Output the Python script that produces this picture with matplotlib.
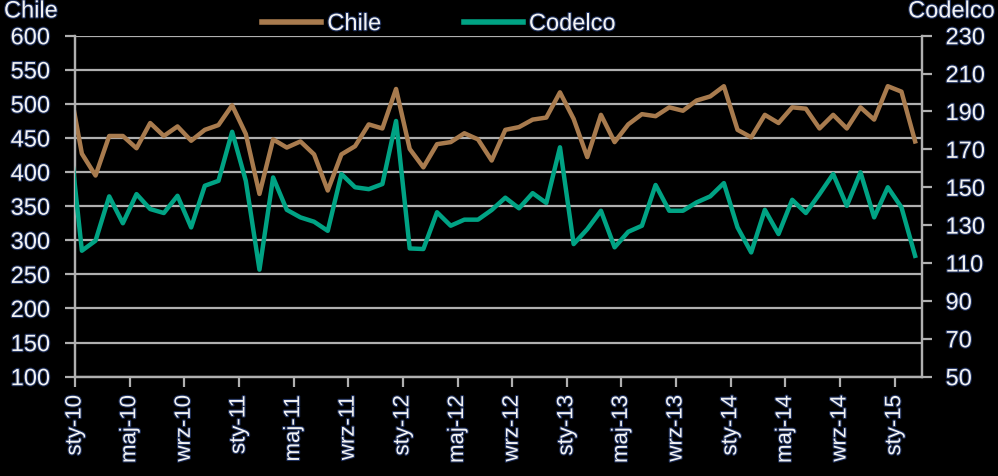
import matplotlib
matplotlib.use("Agg")
import matplotlib.pyplot as plt
import matplotlib.patheffects as pe
import numpy as np

# Monthly data, Dec 2009 (partly clipped at left edge) to Feb 2015
chile = [536,
         427, 395, 453, 453, 435, 472, 453, 467, 446, 462, 469, 498,
         456, 368, 448, 436, 445, 426, 373, 426, 438, 470, 464, 522,
         434, 407, 441, 444, 457, 448, 417, 462, 466, 477, 480, 517,
         478, 422, 484, 444, 470, 485, 482, 495, 490, 505, 511, 526,
         462, 451, 484, 472, 495, 493, 464, 484, 464, 495, 477, 526,
         518, 445]
codelco = [184,
           116.5, 121.8, 145.2, 131.0, 146.4, 138.5, 136.4, 145.5, 128.8, 150.8, 153.4, 179.3,
           153.4, 106.5, 155.2, 138.1, 134.1, 131.8, 127.0, 157.0, 150.0, 149.0, 151.7, 185.0,
           117.7, 117.4, 136.8, 129.7, 132.9, 132.9, 138.0, 144.5, 138.9, 146.9, 141.7, 171.1,
           120.0, 127.9, 137.6, 118.3, 126.5, 129.7, 151.2, 137.6, 137.6, 142.0, 145.2, 152.2,
           128.8, 115.6, 138.1, 125.3, 143.4, 136.4, 146.4, 157.0, 140.2, 157.9, 134.1, 150.0,
           139.4, 113.8]
tick_labels = ["sty-10", "maj-10", "wrz-10", "sty-11", "maj-11", "wrz-11",
               "sty-12", "maj-12", "wrz-12", "sty-13", "maj-13", "wrz-13",
               "sty-14", "maj-14", "wrz-14", "sty-15"]
left_ticks = list(range(100, 601, 50))
right_ticks = list(range(50, 231, 20))

BROWN = "#A87B4E"
TEAL = "#00A384"
GRID = "#B0B0B0"
TXT = "#F2F2F2"
stroke = [pe.withStroke(linewidth=1.6, foreground="#1E2F5A")]

plt.rcParams['font.family'] = ['Liberation Sans', 'DejaVu Sans']

fig = plt.figure(figsize=(9.98, 4.77), dpi=100, facecolor="black")
ax = fig.add_axes([0.0752, 0.2082, 0.8486, 0.7148])
ax.set_facecolor("black")
ax2 = ax.twinx()

x = np.arange(len(chile)) - 0.5
l1, = ax.plot(x, chile, color=BROWN, lw=3.2, label="Chile", zorder=5)
l2, = ax2.plot(x, codelco, color=TEAL, lw=3.2, label="Codelco", zorder=5)

ax.set_xlim(0, 62)
ax.set_ylim(100, 600)
ax2.set_ylim(50, 230)
ax.set_yticks(left_ticks)
ax2.set_yticks(right_ticks)
ax.set_xticks(np.arange(0, 4 * len(tick_labels), 4))
ax.set_xticklabels(tick_labels, rotation=90, va="top", ha="center")

ax.grid(axis="y", color=GRID, lw=1.6)
ax.set_axisbelow(True)
for a in (ax, ax2):
    a.spines["top"].set_visible(False)
    for s in ("left", "right", "bottom"):
        a.spines[s].set_color(GRID)
        a.spines[s].set_linewidth(1.6)
ax.tick_params(axis="y", length=7, width=1.6, color=GRID, pad=11, labelsize=17, labelcolor=TXT)
ax.tick_params(axis="x", length=7, width=1.6, color=GRID, pad=6, labelsize=16, labelcolor=TXT)
ax2.tick_params(axis="y", length=7, width=1.6, color=GRID, pad=10, labelsize=17, labelcolor=TXT)
for t in ax.get_yticklabels() + ax.get_xticklabels() + ax2.get_yticklabels():
    t.set_path_effects(stroke)

fig.text(0.004, 0.997, "Chile", ha="left", va="top", fontsize=17, color=TXT, path_effects=stroke)
fig.text(0.997, 0.997, "Codelco", ha="right", va="top", fontsize=17, color=TXT, path_effects=stroke)

leg = fig.legend(handles=[l1, l2], loc="upper center", bbox_to_anchor=(0.44, 1.015),
                 ncol=2, frameon=False, fontsize=17, handlelength=2.5,
                 handletextpad=0.25, columnspacing=3.5)
for t in leg.get_texts():
    t.set_color(TXT)
    t.set_path_effects(stroke)
for h in leg.get_lines():
    h.set_linewidth(4)

fig.savefig("out.png", dpi=100, facecolor="black")
